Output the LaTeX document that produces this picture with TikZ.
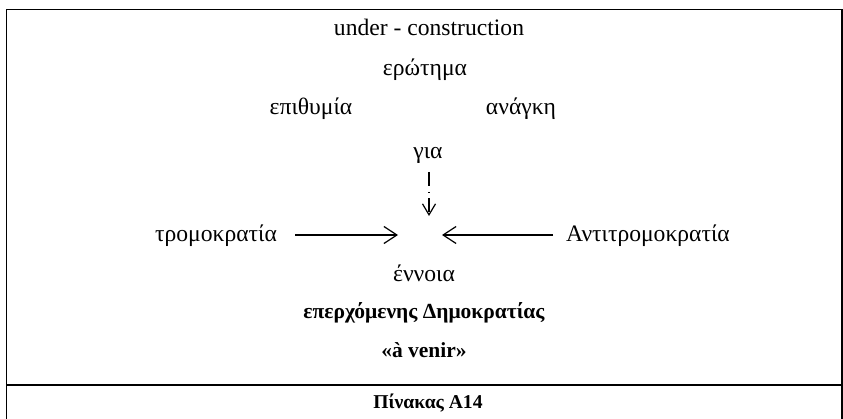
\documentclass[tikz,border=0pt]{standalone}
\usepackage{fontspec}
\setmainfont{Liberation Serif}
\usetikzlibrary{arrows.meta}
\begin{document}
\begin{tikzpicture}[x=1pt,y=1pt,
  reg/.style={inner sep=0pt,font=\fontsize{23.6}{28}\selectfont},
  bld/.style={inner sep=0pt,font=\fontsize{21.5}{26}\selectfont\bfseries},
  bldcap/.style={inner sep=0pt,font=\fontsize{19.6}{24}\selectfont\bfseries},
  frame/.style={line width=1.2pt},
  harrow/.style={line width=1.2pt,-{Straight Barb[length=13pt,width=17pt,line width=1.2pt]}},
  varrow/.style={line width=1.2pt,dash pattern=on 14pt off 6pt on 1.2pt off 5pt,-{Straight Barb[length=11pt,width=13pt,line width=1.2pt]}}]
\useasboundingbox (0,0) rectangle (843,-419);
\fill[white] (0,0) rectangle (843,-419);
\draw[frame] (6.5,-425) -- (6.5,-9.5) -- (842,-9.5) -- (842,-425);
\coordinate (dl) at (6.5,-385);
\coordinate (dr) at (842,-385);
\draw[frame] (dl) -- (dr);
\node[reg] (uc) at (429,-27) {under - construction};
\node[reg] (er) at (425,-70) {ερώτημα};
\node[reg] (ep) at (311,-109) {επιθυμία};
\node[reg] (an) at (521,-109) {ανάγκη};
\node[reg] (gia) at (428,-155) {για};
\node[reg] (tr) at (216,-236) {τρομοκρατία};
\node[reg] (ant) at (648,-236) {Αντιτρομοκρατία};
\node[reg] (en) at (424,-273) {έννοια};
\node[bld] (dem) at (424,-313) {επερχόμενης Δημοκρατίας};
\node[bld] (av) at (424,-350) {«à venir»};
\node[bldcap] (pin) at (428,-403) {Πίνακας Α14};
\coordinate (vtop) at (429,-172);
\coordinate (vend) at (429,-216);
\coordinate (lend) at (398,-235);
\coordinate (rend) at (442,-235);
\coordinate (lst) at (295,-235);
\coordinate (rst) at (553,-235);
\draw[varrow] (vtop) -- (vend);
\draw[harrow] (lst) -- (lend);
\draw[harrow] (rst) -- (rend);
\end{tikzpicture}
\end{document}
